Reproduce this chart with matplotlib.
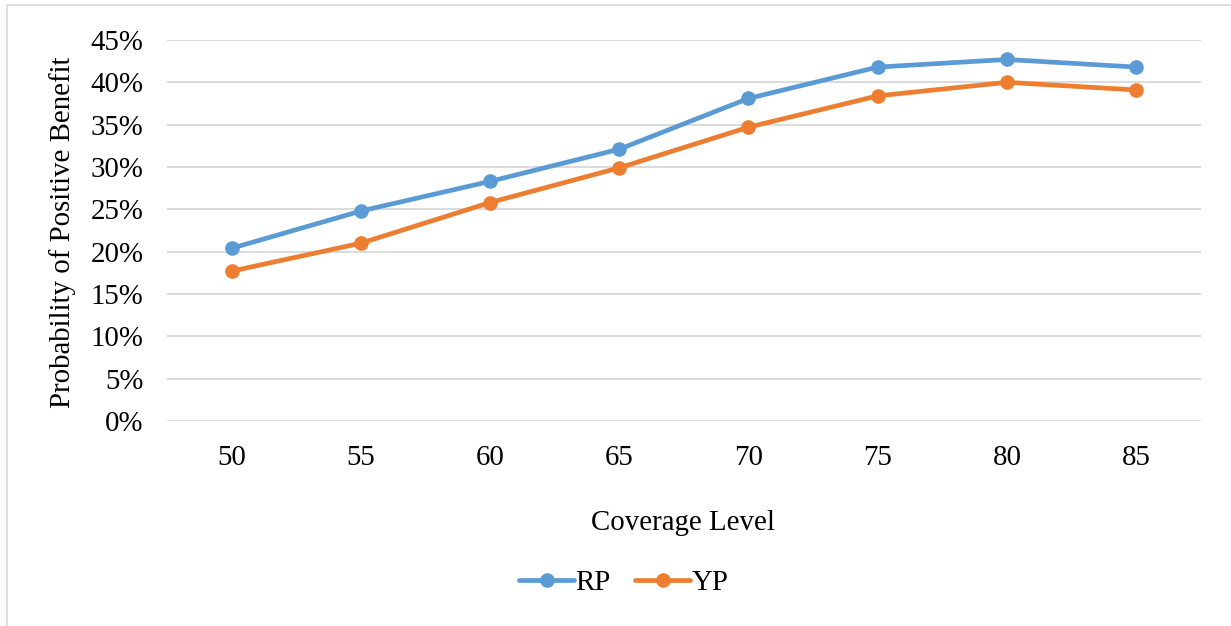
import matplotlib
matplotlib.use("Agg")
import matplotlib.pyplot as plt
from matplotlib.patches import Rectangle
from matplotlib.ticker import PercentFormatter

coverage = ["50", "55", "60", "65", "70", "75", "80", "85"]
rp = [20.4, 24.8, 28.3, 32.1, 38.1, 41.8, 42.7, 41.8]
yp = [17.7, 21.0, 25.8, 29.9, 34.7, 38.4, 40.0, 39.1]
yticks = [0, 5, 10, 15, 20, 25, 30, 35, 40, 45]

plt.rcParams['font.family'] = ['Liberation Serif', 'DejaVu Serif']
fs = 20.8

W, H = 1231, 626
fig = plt.figure(figsize=(W / 100, H / 100), dpi=100)

# light outer frame like the Excel chart area (only left and top show)
fig.patches.append(Rectangle((7 / W, -0.1), 2, 1.1 - 5 / H, transform=fig.transFigure,
                             fill=False, edgecolor="#d9d9d9", linewidth=1.2))

ax = fig.add_axes([167 / W, 1 - 421 / H, (1200.7 - 167) / W, (421 - 40) / H])

x = list(range(len(coverage)))
ax.plot(x, rp, color="#5b9bd5", linewidth=3.4, marker="o", markersize=9.5, label="RP",
        solid_capstyle="round", zorder=3)
ax.plot(x, yp, color="#ed7d31", linewidth=3.4, marker="o", markersize=9.5, label="YP",
        solid_capstyle="round", zorder=3)

ax.set_xlim(-0.5, len(coverage) - 0.5)
ax.set_ylim(0, 45)
ax.set_xticks(x)
ax.set_xticklabels(coverage, fontsize=fs)
ax.set_yticks(yticks)
ax.yaxis.set_major_formatter(PercentFormatter(decimals=0))
ax.tick_params(axis="y", labelsize=fs, length=0, pad=17)
ax.tick_params(axis="x", labelsize=fs, length=0, pad=17)
ax.grid(axis="y", color="#d9d9d9", linewidth=1.3, zorder=0)
for s in ax.spines.values():
  s.set_visible(False)

fig.text(63 / W, 1 - 232 / H, "Probability of Positive Benefit", rotation=90,
         ha="center", va="center", fontsize=fs)
fig.text(683 / W, 1 - 523 / H, "Coverage Level", ha="center", va="center", fontsize=fs)

fig.legend(loc="center", bbox_to_anchor=(624 / W, 1 - 583 / H), ncol=2, frameon=False,
           fontsize=fs, handlelength=1.9, handletextpad=0.05, columnspacing=0.85)

fig.savefig("out.png", dpi=100)
